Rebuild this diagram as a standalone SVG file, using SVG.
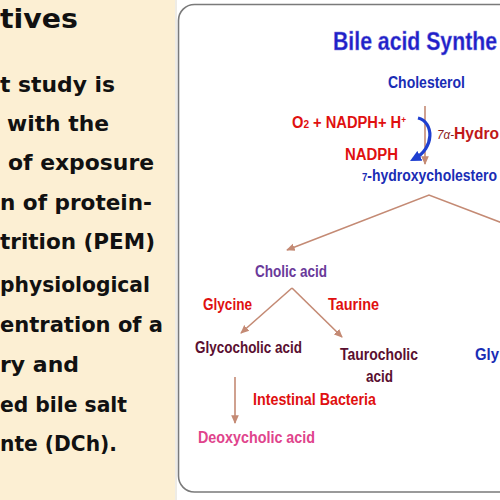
<svg xmlns="http://www.w3.org/2000/svg" width="500" height="500" viewBox="0 0 500 500">
<defs>
<style>
.obj{font-family:"DejaVu Sans",Verdana,sans-serif;font-weight:bold;font-size:21px;fill:#111}
.lbl{font-family:"Liberation Sans",Arial,sans-serif;font-weight:bold;font-size:16px}
.con{fill:none;stroke:#c48a74;stroke-width:1.6}
</style>
<marker id="ah" viewBox="0 0 10 10" refX="8" refY="5" markerWidth="6" markerHeight="6" orient="auto-start-reverse">
<path d="M0,1 L9,5 L0,9 z" fill="#c48a74"/>
</marker>
<marker id="bh" viewBox="0 0 10 10" refX="6" refY="5" markerWidth="3.5" markerHeight="3.5" orient="auto">
<path d="M0,0 L10,5 L0,10 z" fill="#1f3fd0"/>
</marker>
</defs>
<rect x="0" y="0" width="500" height="500" fill="#ffffff"/>
<rect x="0" y="0" width="175" height="500" fill="#fcefd3"/>
<line x1="176" y1="0" x2="176" y2="500" stroke="#ddd8cc" stroke-width="1"/>
<rect x="178.5" y="4.5" width="340" height="487.5" rx="16" ry="16" fill="#ffffff" stroke="#7a7a7a" stroke-width="1.6"/>

<g id="objectives">
<text x="0" y="28" textLength="78" lengthAdjust="spacingAndGlyphs" style="font-family:'DejaVu Sans',Verdana,sans-serif;font-weight:bold;font-size:27px;fill:#111">tives</text>
<text class="obj" x="0" y="92" textLength="115" lengthAdjust="spacingAndGlyphs">t study is</text>
<text class="obj" x="7" y="131" textLength="102" lengthAdjust="spacingAndGlyphs">with the</text>
<text class="obj" x="8" y="170" textLength="146" lengthAdjust="spacingAndGlyphs">of exposure</text>
<text class="obj" x="0" y="210" textLength="152" lengthAdjust="spacingAndGlyphs">n of protein-</text>
<text class="obj" x="0" y="249" textLength="155" lengthAdjust="spacingAndGlyphs">trition (PEM)</text>
<text class="obj" x="0" y="292" textLength="150" lengthAdjust="spacingAndGlyphs">physiological</text>
<text class="obj" x="0" y="332" textLength="163" lengthAdjust="spacingAndGlyphs">entration of a</text>
<text class="obj" x="0" y="372" textLength="79" lengthAdjust="spacingAndGlyphs">ry and</text>
<text class="obj" x="0" y="412" textLength="127" lengthAdjust="spacingAndGlyphs">ed bile salt</text>
<text class="obj" x="0" y="451" textLength="117" lengthAdjust="spacingAndGlyphs">nte (DCh).</text>
</g>

<g id="title">
<text x="333" y="50" textLength="164" lengthAdjust="spacingAndGlyphs" style="font-family:'Liberation Sans',Arial,sans-serif;font-weight:bold;font-size:25px;fill:#2020c8;stroke:#8a8ae0;stroke-width:0.4">Bile acid Synthe</text>
</g>

<g id="connectors">
<line class="con" x1="425" y1="106" x2="425" y2="164" marker-end="url(#ah)"/>
<path d="M418,118 C434,122 435,148 414,159" fill="none" stroke="#1f3fd0" stroke-width="3.2" marker-end="url(#bh)"/>
<polyline class="con" points="287,250 429,195 505,224" marker-start="url(#ah)"/>
<line class="con" x1="292" y1="288" x2="241" y2="333" marker-end="url(#ah)"/>
<line class="con" x1="292" y1="288" x2="342" y2="337" marker-end="url(#ah)"/>
<line class="con" x1="235" y1="377" x2="235" y2="423" marker-end="url(#ah)"/>
</g>

<g id="cholesterol">
<text class="lbl" x="388" y="88" textLength="77" lengthAdjust="spacingAndGlyphs" fill="#1a2db5">Cholesterol</text>
</g>
<g id="cofactors">
<text class="lbl" x="292" y="128" textLength="114" lengthAdjust="spacingAndGlyphs" fill="#e01010">O<tspan font-size="11">2</tspan> + NADPH+ H<tspan font-size="9" dy="-5">+</tspan></text>
<text class="lbl" x="345" y="160" textLength="53" lengthAdjust="spacingAndGlyphs" fill="#e01010">NADPH</text>
</g>
<g id="enzyme">
<text class="lbl" x="437" y="139" textLength="62" lengthAdjust="spacingAndGlyphs" fill="#c01818"><tspan font-size="12" font-weight="normal" font-style="italic" fill="#8b1a1a">7α-</tspan>Hydro</text>
</g>
<g id="hydroxycholesterol">
<text class="lbl" x="362" y="181" textLength="135" lengthAdjust="spacingAndGlyphs" fill="#1a2db5"><tspan font-size="11">7</tspan>-hydroxycholestero</text>
</g>
<g id="cholic">
<text class="lbl" x="255" y="277" textLength="72" lengthAdjust="spacingAndGlyphs" fill="#6a3a9a">Cholic acid</text>
</g>
<g id="glycine">
<text class="lbl" x="203" y="310" textLength="49" lengthAdjust="spacingAndGlyphs" fill="#e01010">Glycine</text>
</g>
<g id="taurine">
<text class="lbl" x="328" y="310" textLength="51" lengthAdjust="spacingAndGlyphs" fill="#e01010">Taurine</text>
</g>
<g id="glycocholic">
<text class="lbl" x="195" y="353" textLength="107" lengthAdjust="spacingAndGlyphs" fill="#5a0f30">Glycocholic acid</text>
</g>
<g id="taurocholic">
<text class="lbl" x="340" y="360" textLength="78" lengthAdjust="spacingAndGlyphs" fill="#5a0f30">Taurocholic</text>
<text class="lbl" x="366" y="382" textLength="27" lengthAdjust="spacingAndGlyphs" fill="#5a0f30">acid</text>
</g>
<g id="gly">
<text class="lbl" x="475" y="360" textLength="24" lengthAdjust="spacingAndGlyphs" fill="#1a2db5">Gly</text>
</g>
<g id="bacteria">
<text class="lbl" x="253" y="405" textLength="123" lengthAdjust="spacingAndGlyphs" fill="#e01010">Intestinal Bacteria</text>
</g>
<g id="deoxycholic">
<text class="lbl" x="198" y="443" textLength="117" lengthAdjust="spacingAndGlyphs" fill="#e0448c">Deoxycholic acid</text>
</g>
</svg>
